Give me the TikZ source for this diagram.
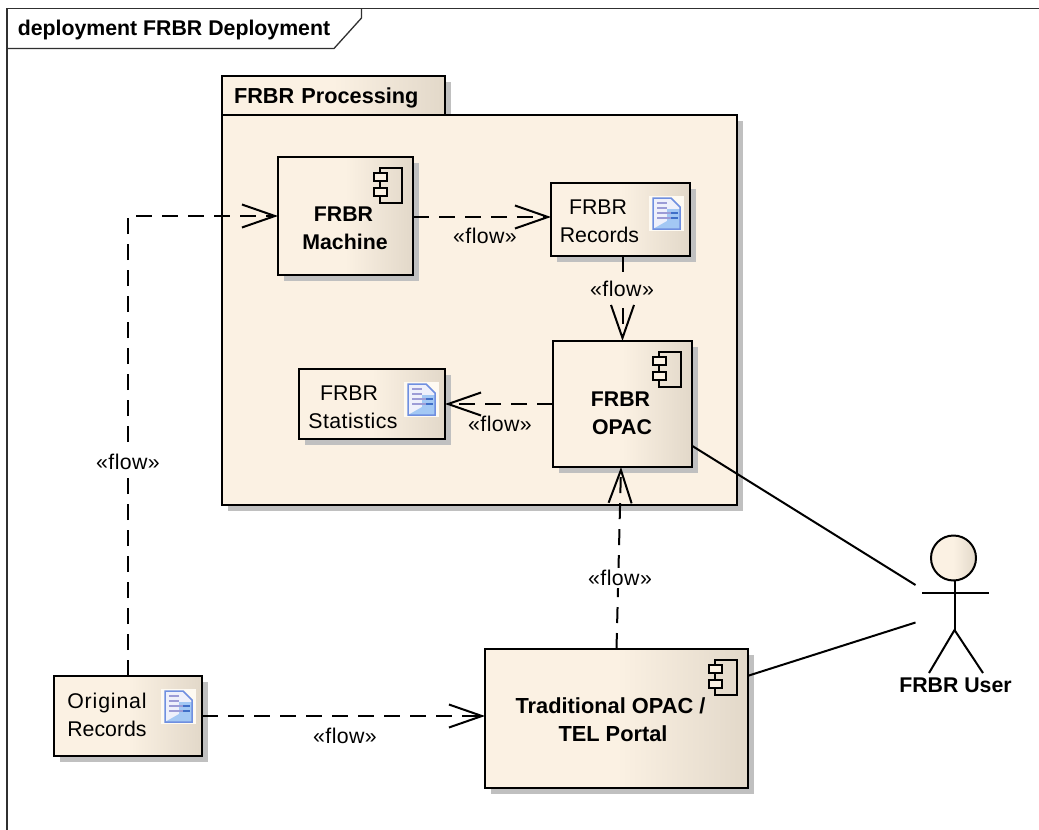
\documentclass[tikz,border=0pt]{standalone}
\usepackage{fontspec}
\setmainfont{Liberation Sans}
\usetikzlibrary{arrows.meta,positioning,shadows}

\definecolor{boxcream}{HTML}{FBF1E3}
\definecolor{boxtan}{HTML}{E2D8C9}
\definecolor{boxshadow}{HTML}{C0C0C0}
\definecolor{framegray}{HTML}{303030}
\definecolor{docedge}{HTML}{6F8FE0}
\definecolor{docpage}{HTML}{EEF0FB}
\definecolor{docblue}{HTML}{A3C8F4}
\definecolor{docline}{HTML}{9C9CD6}
\definecolor{docmark}{HTML}{3F6FC8}
\definecolor{doctile}{HTML}{FEFAF2}
\pgfdeclarehorizontalshading{boxshade}{100bp}{color(0bp)=(boxcream); color(50bp)=(boxcream); color(75bp)=(boxtan); color(100bp)=(boxtan)}

\tikzset{
  umlbox/.style={draw=black, line width=2pt, shade, shading=boxshade, inner sep=0pt, outer sep=0pt,
    drop shadow={opacity=1, fill=boxshadow, shadow xshift=6pt, shadow yshift=-6pt}},
  plaintext/.style={font=\fontsize{21.3}{28}\selectfont, align=center, inner sep=0pt},
  flowtext/.style={font=\fontsize{21.3}{28}\selectfont\addfontfeature{LetterSpace=2}, align=center, inner sep=0pt},
  boldtext/.style={font=\fontsize{21.3}{28}\selectfont\bfseries, align=center, inner sep=0pt},
  compicon/.pic={
    \draw[line width=1.5pt] (-33,11) rectangle (-11,46);
    \draw[line width=1.5pt, fill=boxcream] (-39,16) rectangle (-26,24);
    \draw[line width=1.5pt, fill=boxcream] (-39,31) rectangle (-26,39);
  },
  docicon/.pic={
    \fill[doctile] (-41,13) rectangle (-6,48);
    \fill[docpage] (-37,15) -- (-19,15) -- (-10,24) -- (-10,46) -- (-37,46) -- cycle;
    \fill[docblue] (-10,26) -- (-10,46) -- (-37,46) -- (-23,38) -- (-23,26) -- cycle;
    \draw[line width=1.3pt, draw=docline] (-33,20) -- (-23,20) (-33,25) -- (-23,25)
      (-33,30) -- (-19,30) (-33,35) -- (-19,35);
    \draw[line width=1.3pt, draw=docmark] (-19,30) -- (-12,30) (-19,35) -- (-12,35);
    \draw[line width=1.5pt, draw=docedge] (-37,15) -- (-19,15) -- (-10,24) -- (-10,46) -- (-37,46) -- cycle;
  },
}

\begin{document}
\begin{tikzpicture}[x=1pt, y=-1pt]
  \useasboundingbox (0,0) rectangle (1039,830);
  % frame
  \draw[framegray, line width=1.3pt] (7,830) -- (7,8.5) -- (1039,8.5);
  \draw[framegray, line width=1.3pt] (7,48.5) -- (334,48.5) -- (361.5,18) -- (361.5,8.5);
  \node (Title) [boldtext] at (174,29.5) {deployment FRBR Deployment};

  % package
  \node (PkgTab) [umlbox, minimum width=223pt, minimum height=39pt, text width=199pt,
    inner xsep=12pt, font=\fontsize{21.7}{28}\selectfont\bfseries, align=left, text depth=0.5pt]
    at (333.5,95.5) {FRBR Processing};
  \node (PkgBody) [draw=black, line width=2pt, fill=boxcream, inner sep=0pt,
    minimum width=515pt, minimum height=390pt,
    drop shadow={opacity=1, fill=boxshadow, shadow xshift=6pt, shadow yshift=-6pt}]
    at (479.5,310) {};

  % boxes
  \begin{scope}[every node/.style={umlbox}]
    \node (Machine) [minimum width=135pt, minimum height=118pt] at (345.5,216) {};
    \node (Records) [minimum width=139pt, minimum height=73pt,
      right of= Machine, node distance=275pt, yshift=-3.5pt] {};
    \node (Opac) [minimum width=139pt, minimum height=126pt,
      below of= Records, node distance=184.5pt, xshift=2pt] {};
    \node (Statistics) [minimum width=146pt, minimum height=70pt,
      left of= Opac, node distance=250.5pt] {};
    \node (Portal) [minimum width=263pt, minimum height=139pt,
      below of= Opac, node distance=314.5pt, xshift=-6pt] {};
    \node (Original) [minimum width=148pt, minimum height=80pt,
      left of= Portal, node distance=488.5pt, yshift=2.5pt] {};
  \end{scope}

  % icons
  \pic at (Machine.north east) {compicon};
  \pic at (Opac.north east) {compicon};
  \pic at (Portal.north east) {compicon};
  \pic at (Records.north east) {docicon};
  \pic at (Statistics.north east) {docicon};
  \pic at (Original.north east) {docicon};

  % box texts
  \node (MachineText) [boldtext] at ([shift={(-0.5,12.5)}]Machine) {FRBR\hspace*{3pt}\\Machine};
  \node (OpacText) [boldtext] at ([shift={(-0.5,9)}]Opac) {FRBR\hspace*{3pt}\\OPAC};
  \node (PortalText) [boldtext, font=\fontsize{21.8}{28}\selectfont\bfseries]
    at ([shift={(-6,1.5)}]Portal) {Traditional OPAC /\\TEL Portal\hspace*{-5pt}};
  \node (RecordsText) [plaintext] at ([shift={(-21,1.5)}]Records) {FRBR\hspace*{3pt}\\Records};
  \node (StatisticsText) [plaintext] at ([shift={(-19,3.5)}]Statistics)
    {FRBR\hspace*{8pt}\\\addfontfeature{LetterSpace=2}Statistics};
  \node (OriginalText) [plaintext] at ([shift={(-21,-1)}]Original)
    {\addfontfeature{LetterSpace=4}Original\\Records};

  % actor
  \node (UserHead) [circle, draw=black, line width=2pt, shade, shading=boxshade, inner sep=0pt,
    minimum size=45pt] at (953.5,558) {};
  \coordinate (UserNeck) at (954.5,581);
  \coordinate (UserHip) at (954.5,630);
  \coordinate (UserArmL) at (922,593);
  \coordinate (UserArmR) at (989,593);
  \coordinate (UserFootL) at (929,673);
  \coordinate (UserFootR) at (983,673);
  \coordinate (UserLinkA) at (915.5,585);
  \coordinate (UserLinkB) at (915.5,622.5);
  \draw[line width=2pt] (UserNeck) -- (UserHip) (UserArmL) -- (UserArmR);
  \draw[line width=2pt] (UserFootL) -- (UserHip) -- (UserFootR);
  \node (UserName) [boldtext] at (955.5,685) {FRBR User};

  % connectors
  \begin{scope}
    [every edge/.style={draw=black, line width=2pt},
    flow/.style={dash pattern=on 16pt off 10pt, -{Straight Barb[length=33pt,width=23pt]}}]
    \path (Original.north) edge[flow, to path={|- (\tikztotarget)}] (Machine.west);
    \path ([yshift=-1pt]Machine.east) edge[flow] ([yshift=2.5pt]Records.west);
    \path (Opac.north |- Records.south) edge[flow] (Opac.north);
    \path (Opac.west) edge[flow] (Statistics.east);
    \path (Portal.north) edge[flow] ([xshift=-1.5pt]Opac.south);
    \path (Original.east) edge[flow] (Portal.west |- Original.east);
    \path (Opac.-31.7) edge (UserLinkA);
    \path (Portal.18.7) edge (UserLinkB);
  \end{scope}

  % flow labels
  \begin{scope}[every node/.style={flowtext}]
    \node (FlowA) [fill=white, inner sep=2pt] at (128,462) {«flow»};
    \node (FlowB) at (485,236) {«flow»};
    \node (FlowC) [fill=boxcream, inner sep=2pt] at (622,289) {«flow»};
    \node (FlowD) at (500,424) {«flow»};
    \node (FlowE) [fill=white, inner sep=2pt] at (620,578) {«flow»};
    \node (FlowF) at (345,736) {«flow»};
  \end{scope}
\end{tikzpicture}
\end{document}
